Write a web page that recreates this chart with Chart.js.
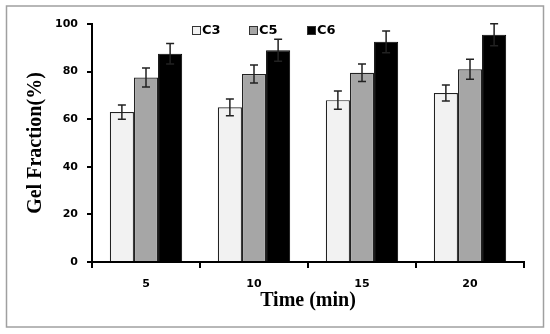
<!DOCTYPE html>
<html>
<head>
<meta charset="utf-8">
<script src="https://cdn.jsdelivr.net/npm/chart.js@4"></script>
<style>
  body { margin: 0; background: #fff; }
</style>
</head>
<body>
<canvas id="myChart" width="550" height="334"></canvas>
<script>
// data
const times = ['5', '10', '15', '20'];
const c3 = [63, 65, 68, 71];
const c5 = [77.5, 79, 79.5, 81];
const c6 = [87.5, 89, 92.5, 95.5];
const c3Err = [3, 3.5, 3.8, 3.4];
const c5Err = [4, 3.8, 3.7, 4.2];
const c6Err = [4.3, 4.6, 4.6, 4.6];
const yTicks = [0, 20, 40, 60, 80, 100];

const tickFont = { family: 'DejaVu Sans', weight: 'bold', size: 11 };

// setup
const data = {
  labels: times,
  datasets: [
    { label: 'C3', data: c3, errors: c3Err, backgroundColor: '#f2f2f2', borderColor: '#222', borderWidth: 1.2 },
    { label: 'C5', data: c5, errors: c5Err, backgroundColor: '#a6a6a6', borderColor: '#222', borderWidth: 1.2 },
    { label: 'C6', data: c6, errors: c6Err, backgroundColor: '#000', borderColor: '#000', borderWidth: 1 }
  ]
};

// grey frame round the whole figure
const frame = {
  id: 'frame',
  beforeDraw(chart) {
    const { ctx } = chart;
    ctx.save();
    ctx.fillStyle = '#fff';
    ctx.fillRect(0, 0, chart.width, chart.height);
    ctx.strokeStyle = '#a0a0a0';
    ctx.lineWidth = 1.5;
    ctx.strokeRect(6.5, 6, 537, 321);
    ctx.restore();
  }
};

const errorBars = {
  id: 'errorBars',
  afterDatasetsDraw(chart) {
    const { ctx, scales: { y } } = chart;
    ctx.save();
    ctx.strokeStyle = '#222';
    ctx.lineWidth = 1.5;
    chart.data.datasets.forEach((ds, i) => {
      chart.getDatasetMeta(i).data.forEach((bar, j) => {
        const v = ds.data[j], e = ds.errors[j];
        const top = y.getPixelForValue(v + e);
        const bot = y.getPixelForValue(v - e);
        ctx.beginPath();
        ctx.moveTo(bar.x, top);
        ctx.lineTo(bar.x, bot);
        ctx.moveTo(bar.x - 4, top);
        ctx.lineTo(bar.x + 4, top);
        ctx.moveTo(bar.x - 4, bot);
        ctx.lineTo(bar.x + 4, bot);
        ctx.stroke();
      });
    });
    ctx.restore();
  }
};

// legend drawn by hand inside the plot, top middle
const topLegend = {
  id: 'topLegend',
  afterDraw(chart) {
    const { ctx } = chart;
    const xs = [192, 249, 307];
    ctx.save();
    ctx.font = 'bold 13px "DejaVu Sans"';
    ctx.textBaseline = 'middle';
    chart.data.datasets.forEach((ds, i) => {
      ctx.fillStyle = ds.backgroundColor;
      ctx.fillRect(xs[i], 26, 9, 9);
      ctx.strokeStyle = '#333';
      ctx.lineWidth = 1;
      ctx.strokeRect(xs[i] + 0.5, 26.5, 8, 8);
      ctx.fillStyle = '#000';
      ctx.fillText(ds.label, xs[i] + 10, 31);
    });
    ctx.restore();
  }
};

// config
const config = {
  type: 'bar',
  data,
  options: {
    responsive: false,
    animation: false,
    layout: { padding: { top: 24, right: 26, left: 0, bottom: 0 } },
    datasets: {
      bar: { categoryPercentage: 0.67, barPercentage: 1.0 }
    },
    scales: {
      x: {
        afterFit(scale) { scale.height = 72; },
        border: { color: '#000', width: 2 },
        grid: { drawOnChartArea: false, drawTicks: true, tickLength: 6, color: '#000', lineWidth: 2 },
        ticks: { color: '#000', font: tickFont, padding: 10 },
        title: {
          display: true,
          text: 'Time (min)',
          color: '#000',
          font: { family: 'Liberation Serif', weight: 'bold', size: 20 },
          padding: { top: 21, bottom: 21 }
        }
      },
      y: {
        min: 0,
        max: 100,
        afterFit(scale) { scale.width = 92; },
        afterBuildTicks(scale) { scale.ticks = yTicks.map(v => ({ value: v })); },
        border: { color: '#000', width: 2 },
        grid: { drawOnChartArea: false, drawTicks: true, tickLength: 5, color: '#000', lineWidth: 2 },
        ticks: { color: '#000', font: tickFont, padding: 9 },
        title: {
          display: true,
          text: 'Gel Fraction(%)',
          color: '#000',
          font: { family: 'Liberation Serif', weight: 'bold', size: 20 },
          padding: { top: 24, bottom: 24 }
        }
      }
    },
    plugins: {
      legend: { display: false },
      tooltip: { enabled: false }
    }
  },
  plugins: [frame, errorBars, topLegend]
};

// render init block
const myChart = new Chart(document.getElementById('myChart'), config);
</script>
</body>
</html>
